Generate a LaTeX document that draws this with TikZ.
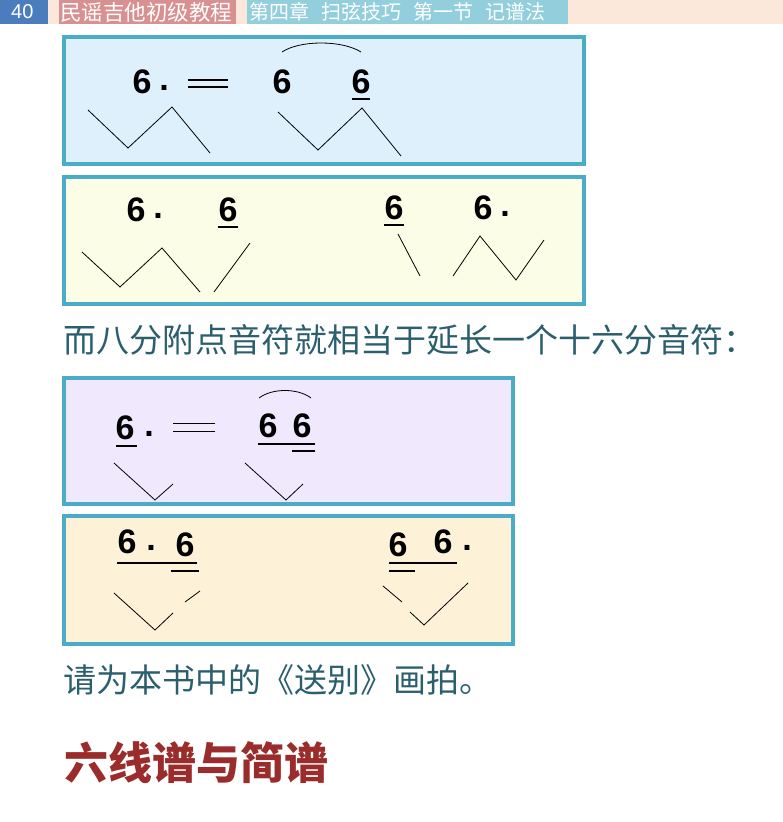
\documentclass[tikz,border=0pt]{standalone}
\usepackage{fontspec}
\setmainfont{Liberation Sans}
\newfontfamily\cjk{Noto Sans CJK SC}
\definecolor{frame}{HTML}{4AACC6}
\definecolor{txt}{HTML}{2C5F6E}
\definecolor{peach}{HTML}{FCE8DA}
\definecolor{pgblue}{HTML}{4A7CBE}
\definecolor{pink}{HTML}{D89090}
\definecolor{cyanh}{HTML}{92CEDC}
\definecolor{f1}{HTML}{DFF0FD}
\definecolor{f2}{HTML}{FBFDE6}
\definecolor{f3}{HTML}{F0E9FD}
\definecolor{f4}{HTML}{FDF1D8}
\definecolor{ttlred}{HTML}{9B2C2C}
\begin{document}
\begin{tikzpicture}[x=1pt,y=-1pt,
  box/.style={draw=frame,line width=4.5pt},
  dig/.style={font=\bfseries\fontsize{34}{34}\selectfont,inner sep=0pt},
  hd/.style={font=\cjk\fontsize{20}{20}\selectfont,text=white,inner sep=0pt,anchor=west},
  body/.style={font=\cjk\fontsize{33}{33}\selectfont,text=txt,anchor=west,inner sep=0pt},
  zz/.style={line width=0.8pt},
  ul/.style={line width=1.5pt}]
\useasboundingbox (0,0) rectangle (783,822);
% header
\fill[peach] (48,0) rectangle (783,24);
\fill[pgblue] (0,0) rectangle (48,24);
\fill[pink] (59,0) rectangle (236,24);
\fill[cyanh] (247,0) rectangle (568,24);
\node[hd,font=\fontsize{20}{20}\selectfont] (pg) at (11,12) {40};
\node[hd,font=\cjk\fontsize{21.5}{22}\selectfont] (t1) at (60,12) {民谣吉他初级教程};
\node[hd] (t2) at (249,12) {第四章\hspace{12pt}扫弦技巧\hspace{12pt}第一节\hspace{12pt}记谱法};
% boxes
\draw[box,fill=f1] (64,37) rectangle (584,164);
\draw[box,fill=f2] (64,177) rectangle (584,304);
\draw[box,fill=f3] (64,378) rectangle (513,504);
\draw[box,fill=f4] (64,516) rectangle (513,644);
% box1
\node[dig] (a1) at (142,82) {6};
\node[dig] (a1d) at (164,88) {.};
\draw[line width=1.6pt] (188,80) -- (228,80) (188,87) -- (228,87);
\node[dig] (a2) at (282,82) {6};
\node[dig] (a3) at (361,82) {6};
\draw[ul] (352,99) -- (370,99);
\draw[line width=0.8pt] (282,52) .. controls (300,40) and (342,40) .. (361,52);
\draw[zz] (88,110) -- (128,148) -- (172,107) -- (210,153);
\draw[zz] (278,112) -- (318,150) -- (362,108) -- (401,156);
% box2
\node[dig] (b1) at (136,210) {6};
\node[dig] (b1d) at (158,216) {.};
\node[dig] (b2) at (228,210) {6};
\draw[ul] (218,227) -- (238,227);
\draw[zz] (82,252) -- (120,287) -- (162,248) -- (200,292);
\draw[zz] (214,292) -- (250,243);
\node[dig] (b3) at (394,208) {6};
\draw[ul] (384,225) -- (404,225);
\node[dig] (b4) at (483,208) {6};
\node[dig] (b4d) at (505,214) {.};
\draw[zz] (398,234) -- (420,276);
\draw[zz] (453,276) -- (480,236) -- (516,280) -- (544,240);
% text
\node[body] (l1) at (63,340) {而八分附点音符就相当于延长一个十六分音符：};
% box3
\node[dig] (c1) at (125,428) {6};
\node[dig] (c1d) at (149,434) {.};
\draw[ul] (116,446) -- (137,446);
\draw[line width=1pt] (173,423) -- (215,423) (173,431) -- (215,431);
\node[dig] (c2) at (268,426) {6};
\node[dig] (c3) at (302,426) {6};
\draw[ul] (258,444) -- (315,444);
\draw[ul] (292,451) -- (315,451);
\draw[line width=0.8pt] (259,398) .. controls (272,388) and (298,388) .. (311,398);
\draw[zz] (114,463) -- (155,500) -- (173,484);
\draw[zz] (245,463) -- (286,500) -- (303,484);
% box4
\node[dig] (d1) at (127,542) {6};
\node[dig] (d1d) at (151,548) {.};
\node[dig] (d2) at (185,545) {6};
\draw[ul] (117,563) -- (197,563);
\draw[ul] (171,571) -- (199,571);
\draw[zz] (114,593) -- (155,630) -- (173,613);
\draw[zz] (185,602) -- (200,591);
\node[dig] (d3) at (398,545) {6};
\node[dig] (d4) at (443,542) {6};
\node[dig] (d4d) at (467,548) {.};
\draw[ul] (389,563) -- (457,563);
\draw[ul] (389,571) -- (415,571);
\draw[zz] (383,586) -- (402,602);
\draw[zz] (410,612) -- (424,625) -- (468,583);
% text
\node[body] (l2) at (63,680) {请为本书中的《送别》画拍。};
\node[font=\cjk\bfseries\fontsize{44}{44}\selectfont,text=ttlred,anchor=west,inner sep=0pt] (ttl) at (64,763) {六线谱与简谱};
\end{tikzpicture}
\end{document}
